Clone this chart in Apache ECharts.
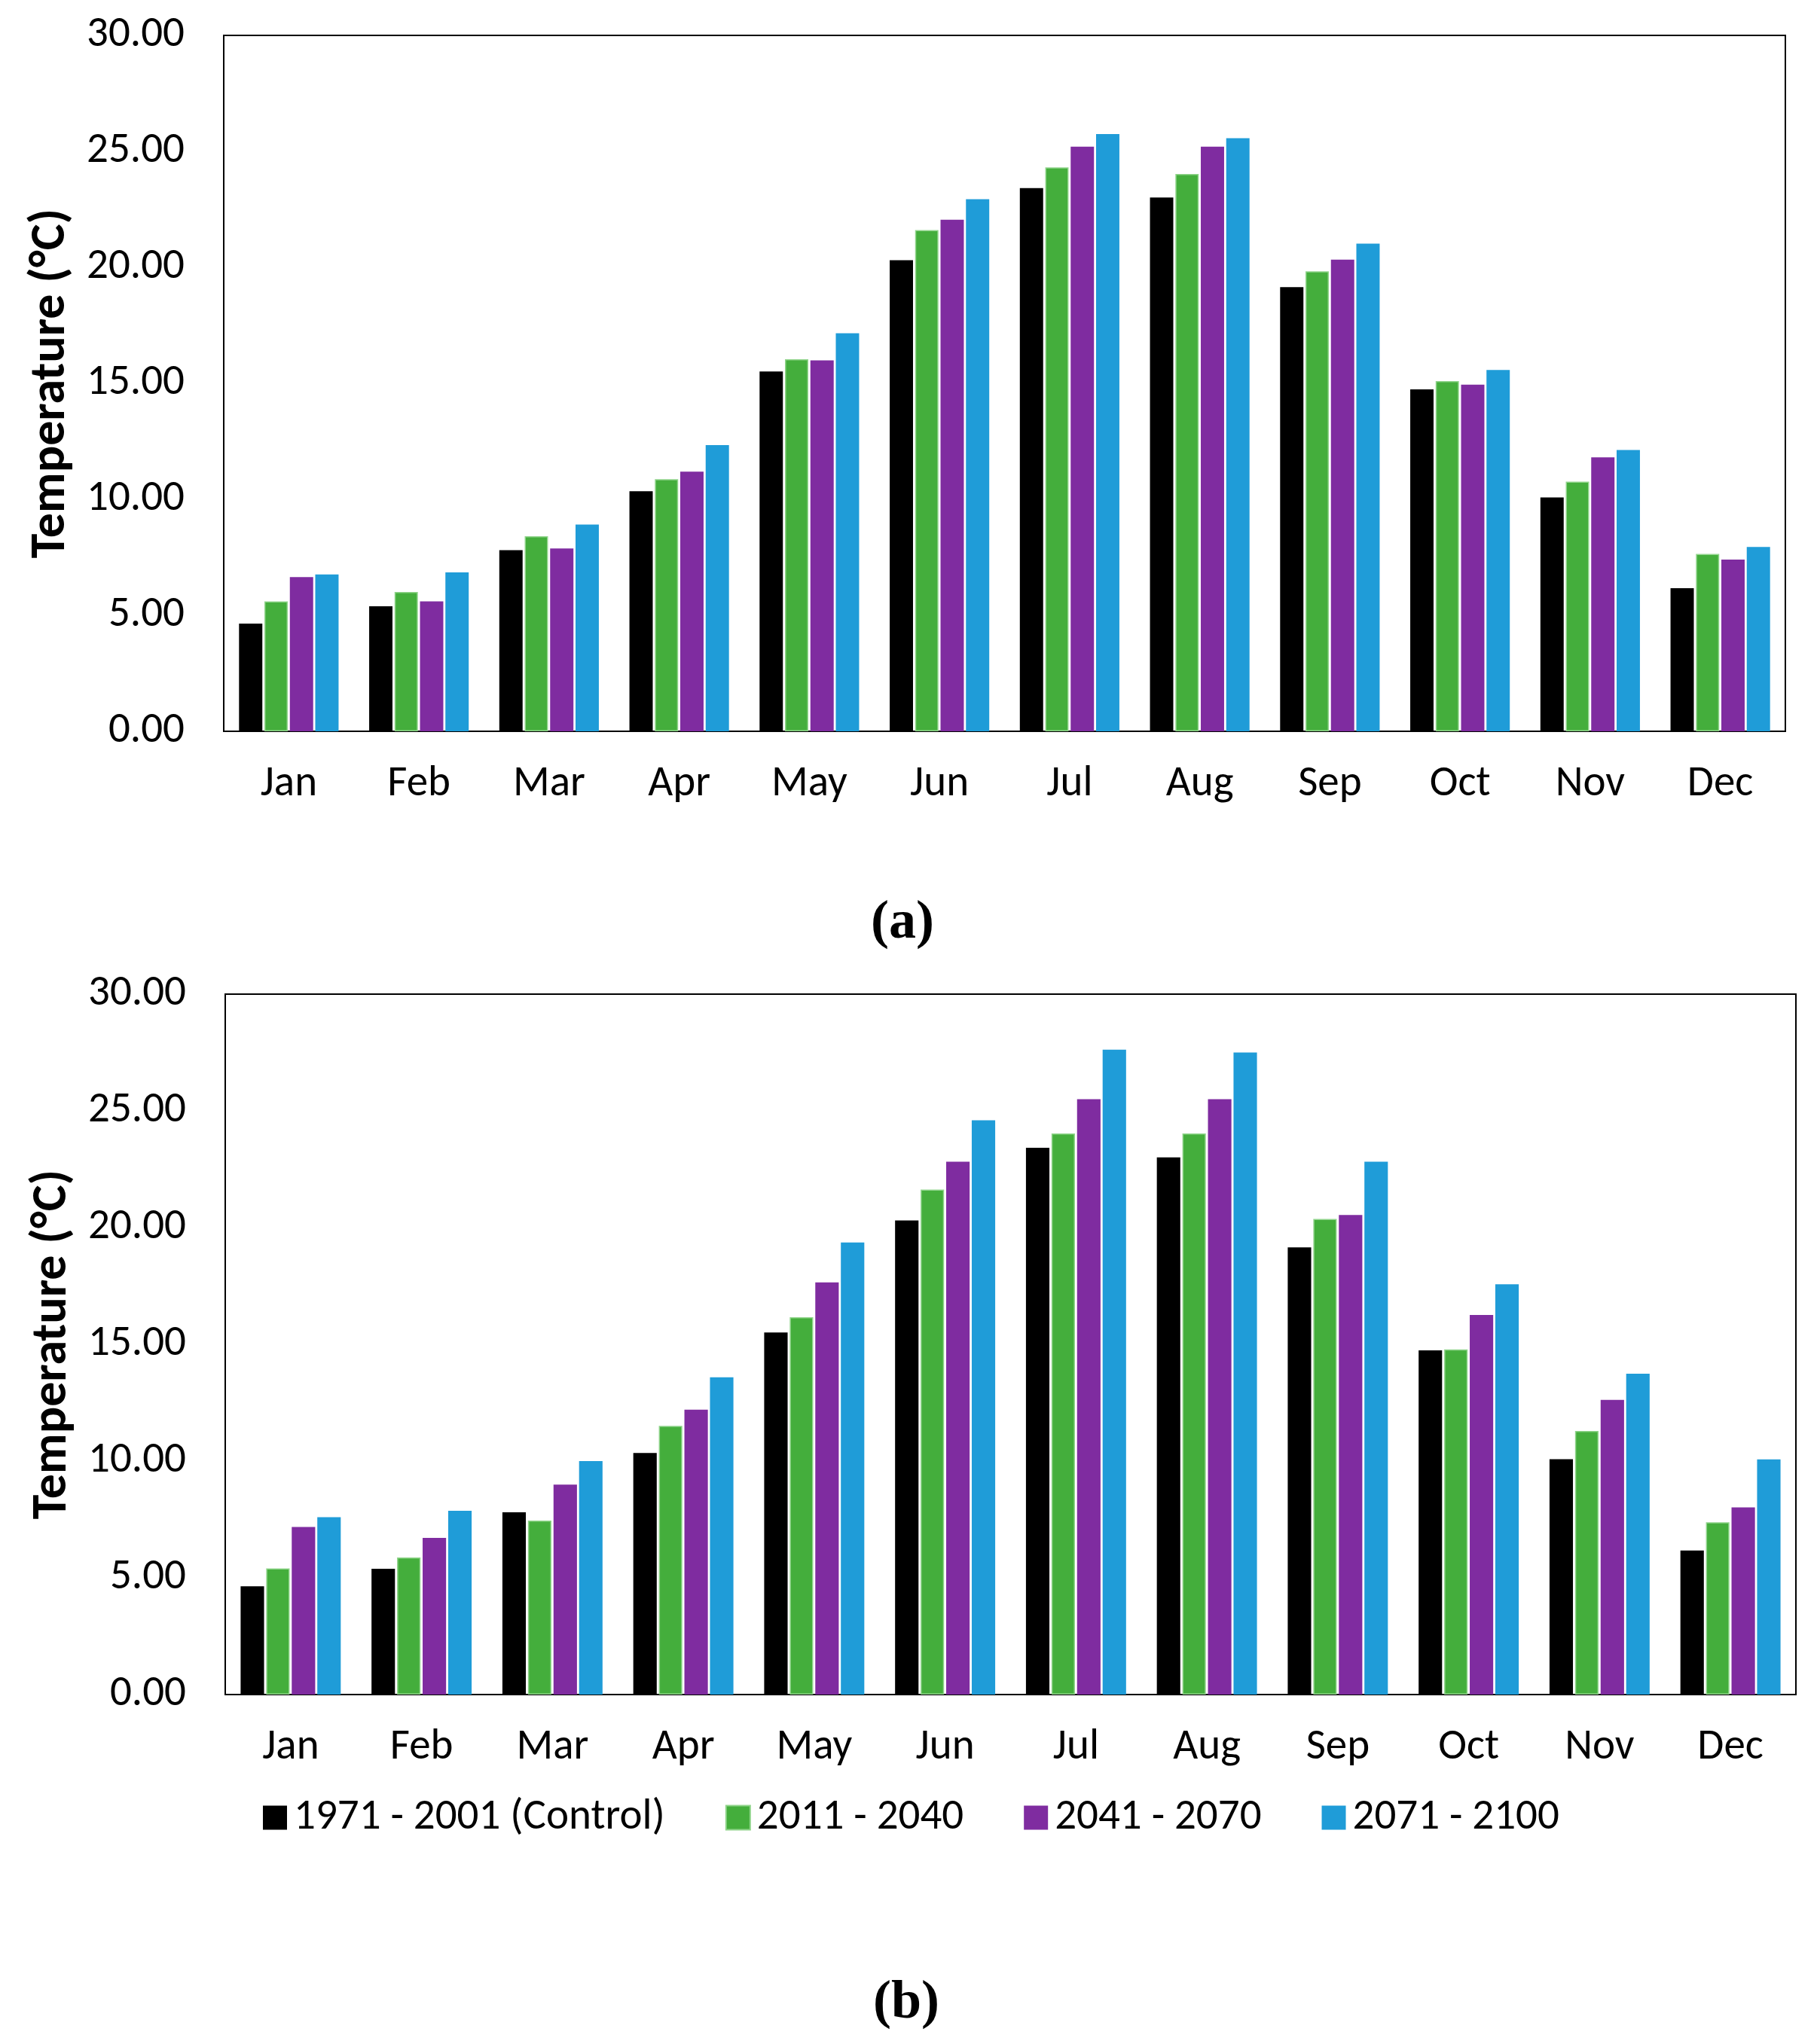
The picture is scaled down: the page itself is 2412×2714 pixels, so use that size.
<!DOCTYPE html>
<html>
<head>
<meta charset="utf-8">
<script src="https://cdn.jsdelivr.net/npm/echarts@6/dist/echarts.min.js"></script>
<style>
html,body{margin:0;padding:0;background:#fff;}
#chart{width:2412px;height:2714px;}
</style>
</head>
<body>
<div id="chart"></div>
<script>
var months = ['Jan','Feb','Mar','Apr','May','Jun','Jul','Aug','Sep','Oct','Nov','Dec'];
var seriesNames = ['1971 - 2001 (Control)','2011 - 2040','2041 - 2070','2071 - 2100'];
var yTicks = [0, 5, 10, 15, 20, 25, 30];

var control = [4.64, 5.39, 7.81, 10.35, 15.51, 20.31, 23.42, 23.01, 19.15, 14.74, 10.08, 6.17];

var a2011 = [5.60, 6.01, 8.41, 10.87, 16.04, 21.61, 24.31, 24.03, 19.83, 15.10, 10.76, 7.65];
var a2041 = [6.65, 5.60, 7.88, 11.19, 15.99, 22.05, 25.20, 25.20, 20.33, 14.94, 11.81, 7.40];
var a2071 = [6.76, 6.85, 8.91, 12.34, 17.16, 22.94, 25.75, 25.57, 21.02, 15.58, 12.13, 7.95];

var b2011 = [5.40, 5.87, 7.45, 11.51, 16.16, 21.63, 24.03, 24.03, 20.37, 14.78, 11.29, 7.38];
var b2041 = [7.18, 6.71, 8.99, 12.20, 17.65, 22.82, 25.50, 25.50, 20.54, 16.26, 12.62, 8.02];
var b2071 = [7.60, 7.87, 10.00, 13.59, 19.36, 24.60, 27.62, 27.50, 22.82, 17.57, 13.74, 10.07];

var colors = ['#000000', '#44ae3c', '#7f2ca0', '#1f9cd8'];
var FONT = 'Carlito, Lato, "Open Sans", sans-serif';

function xAxis(gridIndex) {
  return {
    type: 'category', gridIndex: gridIndex, data: months,
    axisLine: {show: true, lineStyle: {color: '#000', width: 2}},
    axisTick: {show: false},
    axisLabel: {fontFamily: FONT, fontSize: 57, color: '#000', margin: 42}
  };
}
function yAxis(gridIndex) {
  return {
    type: 'value', gridIndex: gridIndex, min: yTicks[0], max: yTicks[yTicks.length - 1], interval: 5,
    name: 'Temperature (°C)', nameLocation: 'middle', nameRotate: 90, nameGap: 196,
    nameTextStyle: {fontFamily: FONT, fontSize: 66, fontWeight: 'bold', color: '#000'},
    axisLine: {show: true, lineStyle: {color: '#000', width: 2}},
    axisTick: {show: false},
    splitLine: {show: false},
    axisLabel: {fontFamily: FONT, fontSize: 57, color: '#000', margin: 52,
      formatter: function (v) { return v.toFixed(2); }}
  };
}
function bar(name, data, idx, gridIdx) {
  var s = {
    name: name, type: 'bar', xAxisIndex: gridIdx, yAxisIndex: gridIdx, data: data,
    barCategoryGap: '23.5%', barGap: '9%',
    itemStyle: {color: colors[idx]}
  };
  if (idx === 1) { s.itemStyle.borderColor = '#8fd48a'; s.itemStyle.borderWidth = 1.5; }
  return s;
}

var chart = echarts.init(document.getElementById('chart'), null, {renderer: 'canvas'});
chart.setOption({
  backgroundColor: '#ffffff',
  animation: false,
  textStyle: {fontFamily: FONT},
  grid: [
    {left: 297, top: 47, width: 2073, height: 924, show: true, borderColor: '#000', borderWidth: 2, backgroundColor: 'transparent'},
    {left: 299, top: 1320, width: 2085, height: 930, show: true, borderColor: '#000', borderWidth: 2, backgroundColor: 'transparent'}
  ],
  xAxis: [xAxis(0), xAxis(1)],
  yAxis: [yAxis(0), yAxis(1)],
  legend: {
    data: seriesNames, left: 344, top: 2380, itemWidth: 32, itemHeight: 32, itemGap: 80,
    icon: 'rect', selectedMode: false,
    textStyle: {fontFamily: FONT, fontSize: 57, color: '#000', padding: [0, 0, 0, 4]}
  },
  graphic: [
    {type: 'text', x: 1198, y: 1226, style: {text: '(a)', fontFamily: '"Liberation Serif", "Times New Roman", serif', fontWeight: 'bold', fontSize: 72, fill: '#000', textAlign: 'center', textVerticalAlign: 'middle'}},
    {type: 'text', x: 1203, y: 2660, style: {text: '(b)', fontFamily: '"Liberation Serif", "Times New Roman", serif', fontWeight: 'bold', fontSize: 72, fill: '#000', textAlign: 'center', textVerticalAlign: 'middle'}}
  ],
  series: [
    bar(seriesNames[0], control, 0, 0),
    bar(seriesNames[1], a2011, 1, 0),
    bar(seriesNames[2], a2041, 2, 0),
    bar(seriesNames[3], a2071, 3, 0),
    bar(seriesNames[0], control, 0, 1),
    bar(seriesNames[1], b2011, 1, 1),
    bar(seriesNames[2], b2041, 2, 1),
    bar(seriesNames[3], b2071, 3, 1)
  ]
});
</script>
</body>
</html>
